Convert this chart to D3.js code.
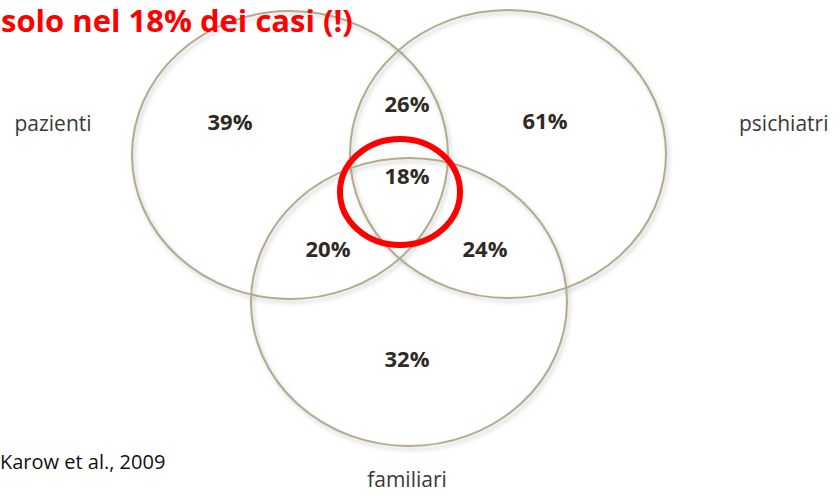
<!DOCTYPE html>
<html>
<head>
<meta charset="utf-8">
<script src="https://cdn.jsdelivr.net/npm/d3@7"></script>
<style>
  body { margin: 0; background: #fff; }
  text { font-family: "Open Sans", sans-serif; }
</style>
</head>
<body>
<script>
// data
const sets = ["pazienti", "psichiatri", "familiari"];
const regions = ["pazienti", "pazienti+psichiatri", "psichiatri", "tutti", "pazienti+familiari", "psichiatri+familiari", "familiari"];
const values = [39, 26, 61, 18, 20, 24, 32];
const title = "solo nel 18% dei casi (!)";
const source = "Karow et al., 2009";

// layout
const width = 839, height = 497;
const rx = 158, ry = 144;
const centers = [[290, 155], [508, 154], [409, 302]];
const setLabelPos = [[53, 131, "middle"], [739, 131, "start"], [407, 487, "middle"]];
const regionPos = [[230, 130], [407, 112], [545, 129], [407, 184], [328, 257], [485, 257], [407, 367]];

const svg = d3.select("body")
    .append("svg")
    .attr("width", width)
    .attr("height", height);

const defs = svg.append("defs");
defs.append("filter")
    .attr("id", "shadow")
    .attr("x", "-10%").attr("y", "-10%")
    .attr("width", "120%").attr("height", "120%")
  .append("feDropShadow")
    .attr("dx", 2).attr("dy", 3)
    .attr("stdDeviation", 2)
    .attr("flood-color", "#888")
    .attr("flood-opacity", 0.45);

// circles
svg.selectAll("ellipse.set")
    .data(sets)
    .enter()
    .append("ellipse")
    .attr("class", "set")
    .attr("cx", (d, i) => centers[i][0])
    .attr("cy", (d, i) => centers[i][1])
    .attr("rx", rx)
    .attr("ry", ry)
    .attr("fill", "none")
    .attr("stroke", "#b3ab8e")
    .attr("stroke-width", 2)
    .attr("filter", "url(#shadow)");

// set labels
svg.selectAll("text.set")
    .data(sets)
    .enter()
    .append("text")
    .attr("class", "set")
    .attr("x", (d, i) => setLabelPos[i][0])
    .attr("y", (d, i) => setLabelPos[i][1])
    .attr("text-anchor", (d, i) => setLabelPos[i][2])
    .attr("font-size", 21)
    .attr("fill", "#3b3935")
    .text(d => d);

// region values
svg.selectAll("text.val")
    .data(values)
    .enter()
    .append("text")
    .attr("class", "val")
    .attr("x", (d, i) => regionPos[i][0])
    .attr("y", (d, i) => regionPos[i][1])
    .attr("text-anchor", "middle")
    .attr("font-size", 22)
    .attr("font-weight", "bold")
    .attr("fill", "#2e2a24")
    .text(d => d + "%");

// red highlight round the 18%
const hi = regions.indexOf("tutti");
svg.append("ellipse")
    .attr("cx", regionPos[hi][0] - 7)
    .attr("cy", regionPos[hi][1] + 8)
    .attr("rx", 60)
    .attr("ry", 53)
    .attr("fill", "none")
    .attr("stroke", "#ff0000")
    .attr("stroke-width", 6);

// title
svg.append("text")
    .attr("x", 1)
    .attr("y", 32)
    .attr("font-size", 31)
    .attr("font-weight", "bold")
    .attr("fill", "#ff0000")
    .text(title);

// source
svg.append("text")
    .attr("x", 0)
    .attr("y", 469)
    .attr("font-size", 20)
    .attr("fill", "#111")
    .text(source);
</script>
</body>
</html>
